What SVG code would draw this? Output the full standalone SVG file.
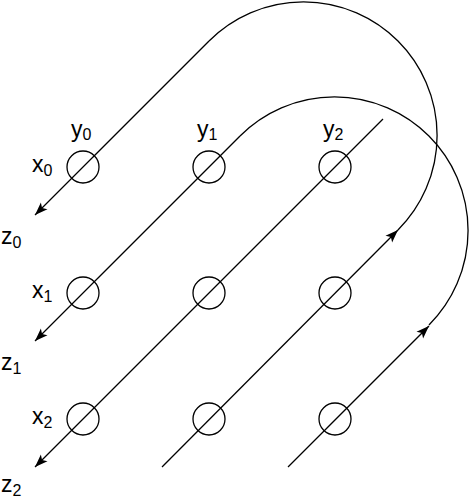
<svg xmlns="http://www.w3.org/2000/svg" width="470" height="498" viewBox="0 0 470 498">
<style>
.c{fill:none;stroke:#000;stroke-width:1.3}
.l{fill:none;stroke:#000;stroke-width:1.3}
.t{font-family:"Liberation Sans",Arial,sans-serif;font-size:23px;fill:#000}
.s{font-size:16px}
</style>
<defs>
<marker id="ah" markerUnits="userSpaceOnUse" markerWidth="14" markerHeight="10" refX="13" refY="5" orient="auto" viewBox="0 0 14 10">
<path d="M0,0.3 L13,5 L0,9.7 L3,5 z" fill="#000"/>
</marker>
</defs>
<rect width="470" height="498" fill="#fff"/>
<g id="connectors">
<path class="l" d="M209.03,41.03 L35,215" marker-end="url(#ah)"/>
<path class="l" d="M240.03,136.03 L35,341" marker-end="url(#ah)"/>
<path class="l" d="M383,119 L35,467" marker-end="url(#ah)"/>
<path class="l" d="M162,467 L397.97,229.97" marker-end="url(#ah)"/>
<path class="l" d="M288,467 L428.97,325.97" marker-end="url(#ah)"/>
<path class="l" d="M397.97,229.97 A133.6,133.6 0 0 0 209.03,41.03"/>
<path class="l" d="M428.97,324.97 A133.6,133.6 0 0 0 240.03,136.03"/>
</g>
<g id="n00"><circle class="c" cx="83" cy="167" r="16"/></g>
<g id="n01"><circle class="c" cx="209" cy="167" r="16"/></g>
<g id="n02"><circle class="c" cx="335" cy="167" r="16"/></g>
<g id="n10"><circle class="c" cx="83" cy="293" r="16"/></g>
<g id="n11"><circle class="c" cx="209" cy="293" r="16"/></g>
<g id="n12"><circle class="c" cx="335" cy="293" r="16"/></g>
<g id="n20"><circle class="c" cx="83" cy="419" r="16"/></g>
<g id="n21"><circle class="c" cx="209" cy="419" r="16"/></g>
<g id="n22"><circle class="c" cx="335" cy="419" r="16"/></g>
<g id="labels">
<text class="t" x="71" y="137">y<tspan class="s" dy="3">0</tspan></text>
<text class="t" x="197" y="137">y<tspan class="s" dy="3">1</tspan></text>
<text class="t" x="323" y="137">y<tspan class="s" dy="3">2</tspan></text>
<text class="t" x="32" y="172">x<tspan class="s" dy="4">0</tspan></text>
<text class="t" x="32" y="298">x<tspan class="s" dy="4">1</tspan></text>
<text class="t" x="32" y="424">x<tspan class="s" dy="4">2</tspan></text>
<text class="t" x="1" y="244">z<tspan class="s" dy="4">0</tspan></text>
<text class="t" x="1" y="370">z<tspan class="s" dy="4">1</tspan></text>
<text class="t" x="1" y="492">z<tspan class="s" dy="4">2</tspan></text>
</g>
</svg>
